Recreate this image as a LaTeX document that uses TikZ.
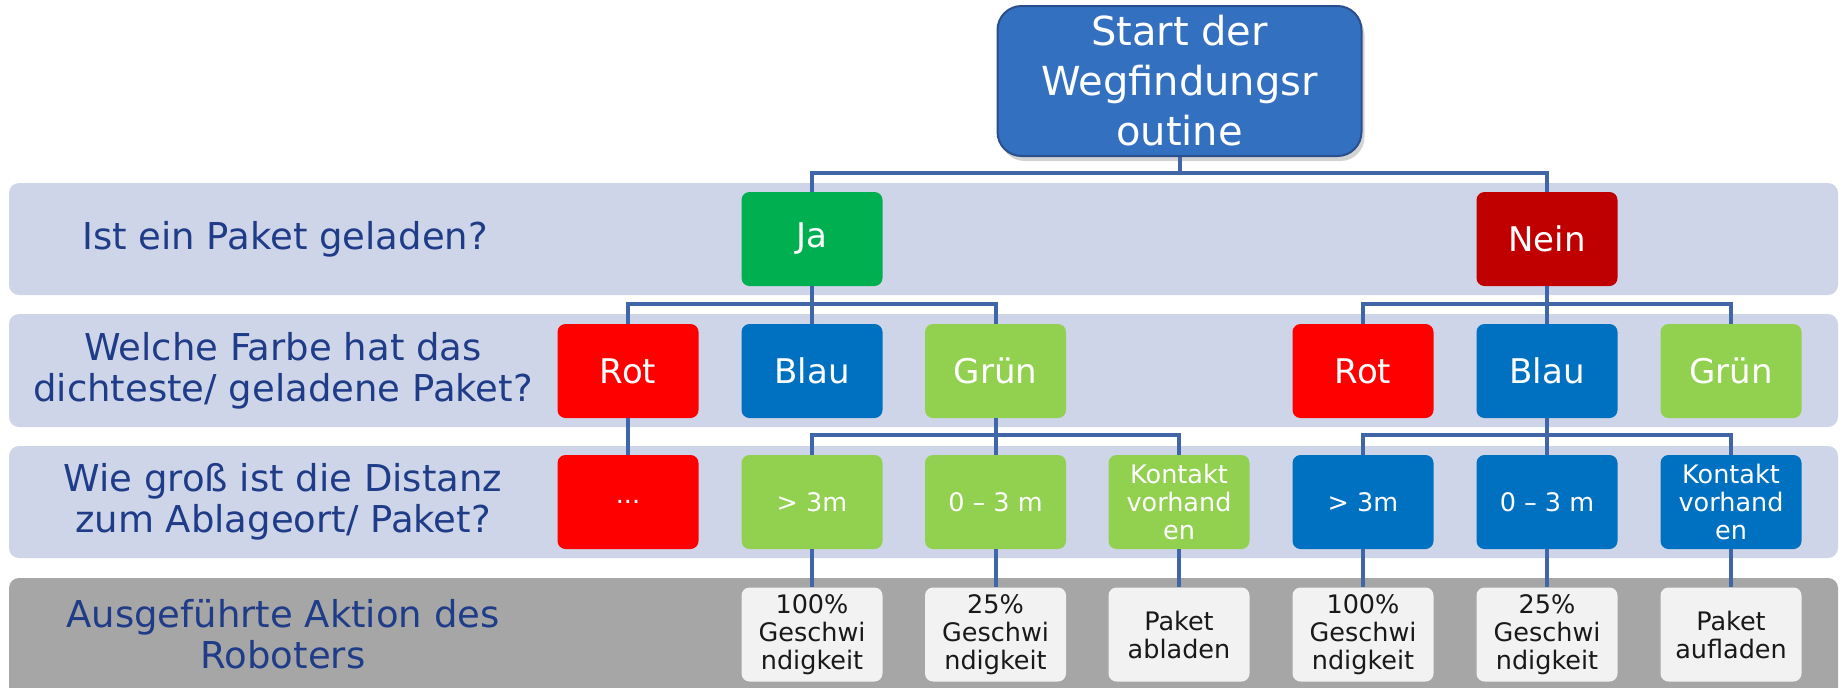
\documentclass[tikz,border=0pt]{standalone}
\usepackage{fontspec}
\setmainfont{DejaVu Sans}
\usetikzlibrary{shadows}
\definecolor{band}{HTML}{CFD5E8}
\definecolor{gband}{HTML}{A6A6A6}
\definecolor{startc}{HTML}{3470C0}
\definecolor{startb}{HTML}{2B4E8C}
\definecolor{jac}{HTML}{00B050}
\definecolor{neinc}{HTML}{C00000}
\definecolor{rotc}{HTML}{FF0000}
\definecolor{blauc}{HTML}{0070C0}
\definecolor{gruenc}{HTML}{92D050}
\definecolor{actc}{HTML}{F2F2F2}
\definecolor{linec}{HTML}{4166A8}
\definecolor{labc}{HTML}{1F3C88}
\begin{document}
\begin{tikzpicture}[x=0.5pt,y=-0.5pt,
  bandbox/.style={fill=band, rounded corners=5pt},
  box/.style={rounded corners=4pt, minimum width=70.5pt, minimum height=47pt, inner sep=1pt, text=white, align=center, font=\fontsize{17}{19}\selectfont},
  smallbox/.style={box, font=\fontsize{12.75}{14}\selectfont},
  actbox/.style={smallbox, fill=actc, text=black!90},
  startbox/.style={rounded corners=12pt, minimum width=182pt, minimum height=75pt, inner sep=1pt, fill=startc, draw=startb, line width=1pt, text=white, align=center, font=\fontsize{20}{25}\selectfont, drop shadow={shadow xshift=1.5pt, shadow yshift=-2.5pt, opacity=0.35}},
  lab/.style={text=labc, align=center, font=\fontsize{18.5}{20.5}\selectfont},
  conn/.style={draw=linec, line width=2pt}
]
\useasboundingbox (0,0) rectangle (1843,687);
\clip (0,0) rectangle (1843,687);
% bands
\fill[bandbox] (9,183) rectangle (1838,295);
\fill[bandbox] (9,314) rectangle (1838,427);
\fill[bandbox] (9,446) rectangle (1838,558);
\fill[bandbox, fill=gband] (9,578) rectangle (1838,710);
% labels
\node[lab] (l1) at (285,239) {Ist ein Paket geladen?};
\node[lab] (l2) at (283,371) {Welche Farbe hat das\\dichteste/ geladene Paket?};
\node[lab] (l3) at (283,502) {Wie groß ist die Distanz\\zum Ablageort/ Paket?};
\node[lab] (l4) at (283,634) {Ausgeführte Aktion des\\Roboters};
% coordinates for buses
\coordinate (h1) at (0,173);
\coordinate (h2) at (0,303.5);
\coordinate (h3) at (0,435);
% nodes
\node[startbox] (start) at (1179.5,81) {Start der\\Wegfindungsr\\outine};
\node[box, fill=jac] (ja) at (812,239) {Ja};
\node[box, fill=neinc] (nein) at (1547,239) {Nein};
\node[box, fill=rotc] (rotL) at (628,371) {Rot};
\node[box, fill=blauc] (blauL) at (812,371) {Blau};
\node[box, fill=gruenc] (gruenL) at (995.5,371) {Grün};
\node[box, fill=rotc] (rotR) at (1363,371) {Rot};
\node[box, fill=blauc] (blauR) at (1547,371) {Blau};
\node[box, fill=gruenc] (gruenR) at (1731,371) {Grün};
\node[smallbox, fill=rotc] (dotsL) at (628,502) {...};
\node[smallbox, fill=gruenc] (gtL) at (812,502) {> 3m};
\node[smallbox, fill=gruenc] (nearL) at (995.5,502) {0 – 3 m};
\node[smallbox, fill=gruenc] (kontL) at (1179,502) {Kontakt\\vorhand\\en};
\node[smallbox, fill=blauc] (gtR) at (1363,502) {> 3m};
\node[smallbox, fill=blauc] (nearR) at (1547,502) {0 – 3 m};
\node[smallbox, fill=blauc] (kontR) at (1731,502) {Kontakt\\vorhand\\en};
\node[actbox] (a1) at (812,634.5) {100\%\\Geschwi\\ndigkeit};
\node[actbox] (a2) at (995.5,634.5) {25\%\\Geschwi\\ndigkeit};
\node[actbox] (a3) at (1179,634.5) {Paket\\abladen};
\node[actbox] (a4) at (1363,634.5) {100\%\\Geschwi\\ndigkeit};
\node[actbox] (a5) at (1547,634.5) {25\%\\Geschwi\\ndigkeit};
\node[actbox] (a6) at (1731,634.5) {Paket\\aufladen};
% connectors
\draw[conn] (start.south) -- (start.south |- h1);
\draw[conn] (ja.north) |- (start.south |- h1) -| (nein.north);
\draw[conn] (ja.south) -- (blauL.north);
\draw[conn] (rotL.north) |- (ja.south |- h2) -| (gruenL.north);
\draw[conn] (nein.south) -- (blauR.north);
\draw[conn] (rotR.north) |- (nein.south |- h2) -| (gruenR.north);
\draw[conn] (rotL.south) -- (dotsL.north);
\draw[conn] (gruenL.south) -- (nearL.north);
\draw[conn] (gtL.north) |- (gruenL.south |- h3) -| (kontL.north);
\draw[conn] (blauR.south) -- (nearR.north);
\draw[conn] (gtR.north) |- (blauR.south |- h3) -| (kontR.north);
\draw[conn] (gtL.south) -- (a1.north);
\draw[conn] (nearL.south) -- (a2.north);
\draw[conn] (kontL.south) -- (a3.north);
\draw[conn] (gtR.south) -- (a4.north);
\draw[conn] (nearR.south) -- (a5.north);
\draw[conn] (kontR.south) -- (a6.north);
\end{tikzpicture}
\end{document}
